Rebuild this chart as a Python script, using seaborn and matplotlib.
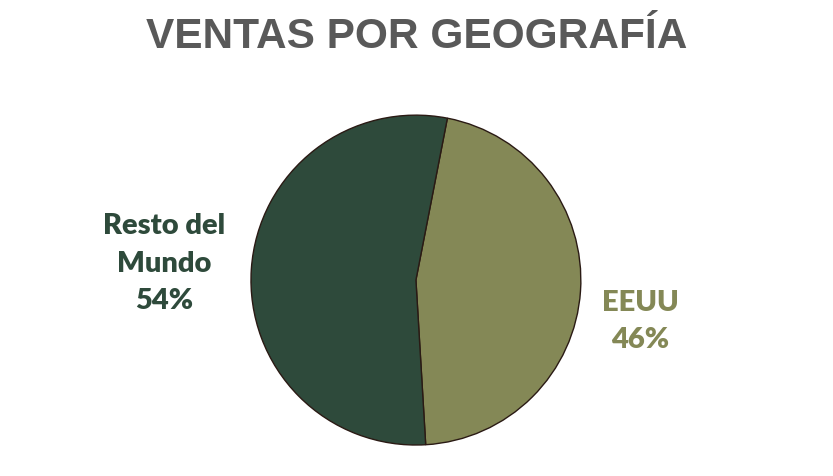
import seaborn as sns
import matplotlib.pyplot as plt

regiones = ['EEUU', 'Resto del\nMundo']
ventas = [46, 54]
colores = ['#848856', '#2E4A3B']

sns.set_theme(style='white')
plt.rcParams['font.family'] = ['Liberation Sans', 'DejaVu Sans']

fig = plt.figure(figsize=(8.33, 4.76), dpi=100)
ax = fig.add_axes([0.3013, 0.0651, 0.396, 0.693])

wedges, _ = ax.pie(ventas, colors=colores, startangle=79, counterclock=False,
                   wedgeprops={'edgecolor': '#2a1a14', 'linewidth': 1.0})
ax.set_xlim(-1, 1)
ax.set_ylim(-1, 1)
ax.set_aspect('equal')
ax.axis('off')

# etiquetas
pos = [(1.358, -0.25), (-1.527, 0.10)]
for reg, v, c, (x, y) in zip(regiones, ventas, colores, pos):
    ax.text(x, y, f'{reg}\n{v}%', ha='center', va='center', color=c,
            fontsize=21, fontweight='heavy', family=['Lato', 'DejaVu Sans'],
            linespacing=1.55)

fig.suptitle('VENTAS POR GEOGRAFÍA', x=0.5, y=0.964, va='top', fontsize=30.5,
             fontweight='bold', color='#595959')

plt.savefig('out.png', dpi=100)
